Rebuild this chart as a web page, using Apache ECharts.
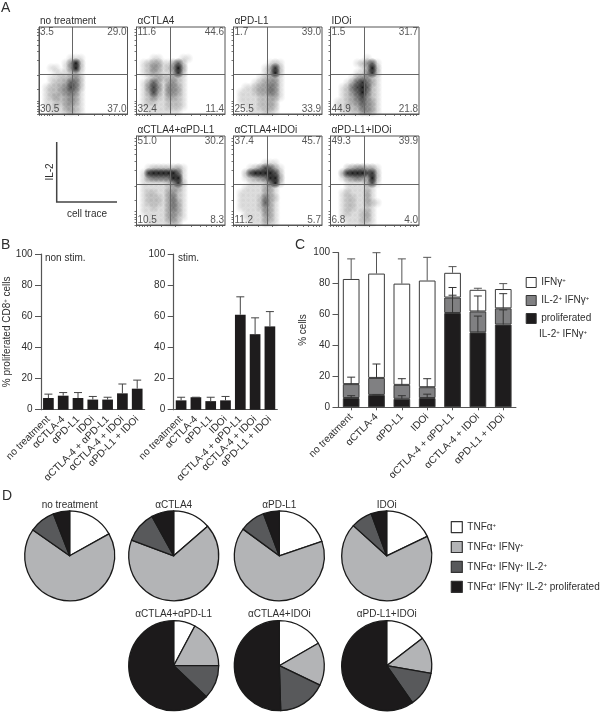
<!DOCTYPE html>
<html><head><meta charset="utf-8">
<style>html,body{margin:0;padding:0;background:#fff}#c{width:600px;height:712px}</style>
<script src="https://cdn.jsdelivr.net/npm/echarts@6/dist/echarts.min.js"></script>
</head><body><div id="c"></div>
<script>
// ---------- DATA ----------
const flowTitles = ['no treatment','αCTLA4','αPD-L1','IDOi','αCTLA4+αPD-L1','αCTLA4+IDOi','αPD-L1+IDOi'];
const flowQuadrants = [ // upper-left, upper-right, lower-left, lower-right
  ['3.5','29.0','30.5','37.0'],['11.6','44.6','32.4','11.4'],['1.7','39.0','25.5','33.9'],['1.5','31.7','44.9','21.8'],
  ['51.0','30.2','10.5','8.3'],['37.4','45.7','11.2','5.7'],['49.3','39.9','6.8','4.0']];
const gateX = [37.2,37.8,37.9,38.2,37.9,38.2,38.4];
const gateY = [45.4,45.4,45.4,45.4,46,46,46];
// density of events, top row first (rows 0-4 are empty in every plot)
const d1 = ['000000000000000000','000000111000000000','000001492000000000','001101492000000000','000111231000000000','001122342000000000','001223652000000000','012234752000000000','012234541000000000','012323431000000000','011223431000000000','011213321000000000','001112321000000000'];
const d2 = ['000000000000000000','000110000110000000','012331136200000000','012431249300000000','012321138200000000','001232232100000000','013631342100000000','014741443100000000','013731443100000000','012421332100000000','012211222100000000','011111222100000000','001111111000000000'];
const d3 = ['000000000000000000','000000000000000000','000000012100000000','000000138200000000','000000139200000000','000001233100000000','000012344100000000','001123354100000000','011123354100000000','011112233100000000','011112232000000000','001112232000000000','000111221000000000'];
const d4 = ['000000000000000000','000000010000000000','000001246100000000','000000139200000000','000001148200000000','000013442100000000','000136853100000000','001257962100000000','001246952100000000','001235742100000000','011234643100000000','011223543100000000','001122443100000000'];
const d5 = ['000000000000000000','001222223100000000','018999996100000000','014555599100000000','011111248200000000','011111233100000000','012211342100000000','012221352100000000','012221353100000000','011211353100000000','011111343100000000','001111342100000000','001111232000000000'];
const d6 = ['000000111000000000','000124763100000000','002799997200000000','001234599300000000','000111259200000000','001111331000000000','011111331000000000','011112532000000000','011112631000000000','011112431000000000','001111431000000000','001111331000000000','000111321000000000'];
const d7 = ['000000000000000000','000234433100000000','003899978200000000','001345439200000000','000111137100000000','000111121000000000','001211131000000000','001221131000000000','001221132100000000','001221121000000000','001211231000000000','001111231000000000','000111221000000000'];
const flowDensity = [d1,d2,d3,d4,d5,d6,d7];

const treatments = ['no treatment','αCTLA-4','αPD-L1','IDOi','αCTLA-4 + αPD-L1','αCTLA-4 + IDOi','αPD-L1 + IDOi'];
const nonStim = [7.5,9,7.5,6.5,6.5,10.5,13.5];
const nonStimErrTop = [10,11,11,8.5,8,16.5,19];
const stim = [6,8,5.5,6,61,48.5,53.5];
const stimErrTop = [8,8,8,8.5,72.5,59,63];
const yTicks = 20;

const cProliferated = [6,8,5.5,6,61,48.5,53.5];
const cIl2 = [9,11,9,7,10,13.5,10.5];
const cIfn = [68,67.5,65.5,69,16,14,12.5];
const cProliferatedErrTop = [7.5,8,7.5,8.5,72.5,59,63];
const cIl2ErrTop = [19.5,28,18.5,18.5,77.5,72,73.5];
const cIfnErrTop = [96,100,96,97,91,77,80];

const pieNames = ['TNFα+','TNFα+ IFNγ+','TNFα+ IFNγ+ IL-2+','TNFα+ IFNγ+ IL-2+ proliferated'];
const pieTitles = flowTitles;
const pieValues = [
  [16.9,67.85,9.35,5.9],[13.6,67.1,11.3,8],[19.8,65.3,9.2,5.7],[17.9,68.8,7.7,5.6],
  [7.8,17.2,12.1,62.9],[16.7,15.4,17.4,50.5],[14.6,13.1,12.6,59.7]];

// ---------- STYLE / LAYOUT ----------
const FONT = '"Liberation Sans", Arial, sans-serif';
const TXT = '#2e2e2e', AX = '#555';
const flowRects = [[39,27,88.5,87],[136.5,27,88.5,87],[233.5,27,88.5,87],[330.5,27,88.5,87],[136.5,136,88.5,89],[233.5,136,88.5,89],[330.5,136,88.5,89]];
const pieCenters = [[69.7,555.8],[173.7,555.8],[279.3,555.8],[386.7,555.8],[173.7,665.7],[279.3,665.7],[386.7,665.7]];
const pieColors = ['#ffffff','#b3b4b6','#58595b','#1c1a1b'];
const rich = {n:{fontFamily:FONT,fontSize:10,color:TXT},s:{fontFamily:FONT,fontSize:6,color:TXT,padding:[0,0,4,0]}};
const sup = t => t.split('+').map((p,i,a)=>(p?`{n|${p}}`:'')+(i<a.length-1?'{s|+}':'')).join('');
const softDot = {type:'radial',x:.5,y:.5,r:.5,colorStops:[{offset:0,color:'rgba(15,15,15,1)'},{offset:.45,color:'rgba(15,15,15,.6)'},{offset:1,color:'rgba(15,15,15,0)'}]};

const grid=[],xAxis=[],yAxis=[],series=[],title=[];
const text=(t,left,top,o={})=>title.push(Object.assign({text:t,left,top,padding:0,textStyle:{fontFamily:FONT,fontSize:o.size||10,fontWeight:'normal',color:TXT,rich}},o.extra||{}));

text('A',1,1,{size:14}); text('B',1,238,{size:14}); text('C',295,238,{size:14}); text('D',2,489,{size:14});

// Panel A
flowTitles.forEach((t,i)=>{
  const r=flowRects[i];
  grid.push({left:r[0],top:r[1],width:r[2],height:r[3],show:true,borderColor:AX,borderWidth:1,backgroundColor:'#fff'});
  const g=grid.length-1;
  const tick={show:true,length:2,lineStyle:{color:AX,width:0.8},customValues:[0,3,6,9,12,15,28,44,62,72,79,85,90,94,97]};
  xAxis.push({gridIndex:g,type:'value',min:0,max:100,axisLine:{lineStyle:{color:AX}},axisTick:tick,axisLabel:{show:false},splitLine:{show:false}});
  yAxis.push({gridIndex:g,type:'value',min:0,max:100,axisLine:{lineStyle:{color:AX}},axisTick:tick,axisLabel:{show:false},splitLine:{show:false}});
  const pts=[];
  flowDensity[i].forEach((row,ri)=>{for(let c=0;c<row.length;c++){const d=+row[c];if(!d)continue;
    pts.push({value:[(c+.5)/18*100,100-(ri+5.5)/18*100],itemStyle:{opacity:Math.min(1,Math.pow(d/9,1.1)*0.95+0.03)}});}});
  series.push({type:'scatter',xAxisIndex:g,yAxisIndex:g,data:pts,symbolSize:11,silent:true,animation:false,
    itemStyle:{color:softDot},
    markLine:{silent:true,animation:false,symbol:'none',label:{show:false},lineStyle:{color:'#666',width:1,type:'solid'},data:[{xAxis:gateX[i]},{yAxis:gateY[i]}]}});
  const q=flowQuadrants[i];
  const mk=(v,x,y,pos)=>({value:[x,y],label:{show:true,formatter:v,position:pos,distance:0,fontFamily:FONT,fontSize:10,color:TXT}});
  series.push({type:'scatter',xAxisIndex:g,yAxisIndex:g,symbolSize:0,silent:true,animation:false,z:6,
    data:[mk(q[0],1,94,'right'),mk(q[1],99,94,'left'),mk(q[2],1,5,'right'),mk(q[3],99,5,'left')]});
  text(t,r[0]+1,r[1]-10.5);
});

// error-bar helper
function errSeries(g,bases,tops,cap,color,w){
  return {type:'custom',xAxisIndex:g,yAxisIndex:g,silent:true,animation:false,clip:false,z:5,
    data:tops.map((t,i)=>[i,bases[i],t]),encode:{x:0,y:[1,2]},
    renderItem:(p,api)=>{const a=api.coord([api.value(0),api.value(1)]),b=api.coord([api.value(0),api.value(2)]);
      const st={stroke:color,lineWidth:w,fill:null};
      return {type:'group',children:[
        {type:'line',shape:{x1:a[0],y1:a[1],x2:b[0],y2:b[1]},style:st},
        {type:'line',shape:{x1:b[0]-cap,y1:b[1],x2:b[0]+cap,y2:b[1]},style:st}]};}};
}
function barAxes(left,top,w,h,name,xTick){
  grid.push({left,top,width:w,height:h});
  const g=grid.length-1;
  xAxis.push({gridIndex:g,type:'category',data:treatments,axisLine:{lineStyle:{color:AX,width:1.2}},
    axisTick:{show:xTick>0,length:xTick,alignWithLabel:true,lineStyle:{color:AX}},
    axisLabel:{interval:0,rotate:45,margin:8,fontFamily:FONT,fontSize:10.2,color:TXT}});
  yAxis.push({gridIndex:g,type:'value',min:0,max:100,interval:yTicks,name:name||'',nameLocation:'middle',nameGap:name&&name.length>10?28:24,nameRotate:90,
    nameTextStyle:{rich},axisLine:{show:true,lineStyle:{color:AX,width:1.2}},axisTick:{show:true,length:6,lineStyle:{color:AX,width:1}},
    axisLabel:{margin:8.5,fontFamily:FONT,fontSize:10,color:TXT},splitLine:{show:false}});
  return g;
}
// Panel B
let g=barAxes(41,254,103.6,155.7,'{n|% proliferated CD8}{s|+}{n| cells}',0);
series.push({type:'bar',name:'non stim.',xAxisIndex:g,yAxisIndex:g,data:nonStim,barWidth:10.7,animation:false,silent:true,itemStyle:{color:'#1e1c1d'}});
series.push(errSeries(g,nonStim,nonStimErrTop,4,'#444',1));
text('non stim.',45,253);
g=barAxes(173.7,254,103.6,155.7,'',0);
series.push({type:'bar',name:'stim.',xAxisIndex:g,yAxisIndex:g,data:stim,barWidth:10.7,animation:false,silent:true,itemStyle:{color:'#1e1c1d'}});
series.push(errSeries(g,stim,stimErrTop,4,'#444',1));
text('stim.',178,253);

// Panel C
g=barAxes(338.5,252.7,177.4,154.6,'{n|% cells}',3);
yAxis[g].nameGap=30;
const cSeries=[['proliferated IL-2+ IFNγ+',cProliferated,'#1e1c1d'],['IL-2+ IFNγ+',cIl2,'#808082'],['IFNγ+',cIfn,'#ffffff']];
cSeries.forEach(s=>series.push({type:'bar',name:s[0],stack:'c',xAxisIndex:g,yAxisIndex:g,data:s[1],barWidth:16.7,animation:false,silent:true,
  itemStyle:{color:s[2],borderColor:'#3a3a3a',borderWidth:1}}));
const cum1=cProliferated, cum2=cProliferated.map((v,i)=>v+cIl2[i]), cum3=cum2.map((v,i)=>v+cIfn[i]);
series.push(errSeries(g,cum3,cIfnErrTop,4,'#555',1));
series.push(errSeries(g,cum2,cIl2ErrTop,4,'#333',1));
series.push(errSeries(g,cum1,cProliferatedErrTop,4,'#333',1));
text('{n|IL-2}{s|+}{n| IFNγ}{s|+}',539,329);

// Panel D
pieTitles.forEach((t,i)=>{
  const c=pieCenters[i];
  series.push({type:'pie',center:c,radius:[0,45],startAngle:90,clockwise:true,animation:false,silent:true,label:{show:false},labelLine:{show:false},
    itemStyle:{borderColor:'#1a1a1a',borderWidth:1.3},
    data:pieNames.map((n,j)=>({name:n,value:pieValues[i][j],itemStyle:{color:pieColors[j]}}))});
  title.push({text:t,left:c[0],top:c[1]-56,padding:0,textAlign:'center',textStyle:{fontFamily:FONT,fontSize:10,fontWeight:'normal',color:TXT}});
});

const legendBase={orient:'vertical',icon:'rect',selectedMode:false,inactiveColor:'#ccc',padding:0,textStyle:{rich,fontFamily:FONT,fontSize:10,color:TXT}};
const legend=[
  Object.assign({},legendBase,{left:525.7,top:277,itemWidth:10,itemHeight:10,itemGap:7,data:['IFNγ+','IL-2+ IFNγ+','proliferated IL-2+ IFNγ+'],
    itemStyle:{borderColor:'#333',borderWidth:1},
    formatter:n=>n.startsWith('prolif')?'{n|proliferated}':sup(n)}),
  Object.assign({},legendBase,{left:450.7,top:521,itemWidth:11,itemHeight:11,itemGap:7.7,data:pieNames,
    itemStyle:{borderColor:'#333',borderWidth:1.2},
    formatter:n=>sup(n)})
];

const graphic=[
  {type:'polyline',shape:{points:[[56.7,142],[56.7,202],[117,202]]},style:{stroke:'#444',lineWidth:1.5,fill:null}},
  {type:'text',x:50,y:172,rotation:Math.PI/2,style:{text:'IL-2',fontFamily:FONT,fontSize:10,fill:TXT,align:'center',verticalAlign:'middle'}},
  {type:'text',x:87,y:214,style:{text:'cell trace',fontFamily:FONT,fontSize:10,fill:TXT,align:'center',verticalAlign:'middle'}}
];

echarts.init(document.getElementById('c'),null,{renderer:'canvas',width:600,height:712}).setOption({
  animation:false,backgroundColor:'#fff',tooltip:{show:false},title,grid,xAxis,yAxis,series,legend,graphic
});
</script></body></html>
